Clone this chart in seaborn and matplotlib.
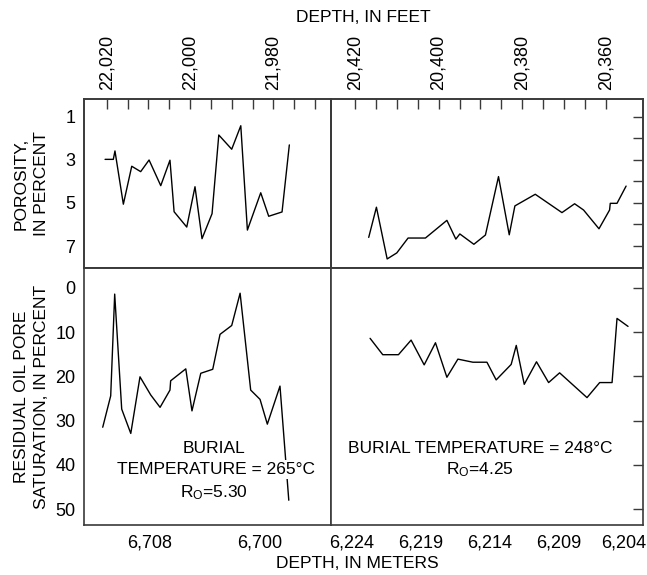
import matplotlib
matplotlib.use("Agg")
import matplotlib.pyplot as plt
import matplotlib.transforms as mtransforms
import seaborn as sns
import pandas as pd

sns.set_theme(style="white")
plt.rcParams['font.family'] = ['Liberation Sans', 'DejaVu Sans']
plt.rcParams['mathtext.fontset'] = 'custom'
plt.rcParams['mathtext.rm'] = 'Liberation Sans'
plt.rcParams['mathtext.it'] = 'Liberation Sans'
plt.rcParams['text.color'] = 'black'
plt.rcParams['axes.labelcolor'] = 'black'
plt.rcParams['xtick.color'] = 'black'
plt.rcParams['ytick.color'] = 'black'

# ---------------- data (depth in meters) ----------------
left_depth_por = [6711.27, 6710.67, 6710.55, 6709.94, 6709.33, 6708.68, 6708.07, 6707.22,
                  6706.55, 6706.25, 6705.33, 6704.73, 6704.22, 6703.49, 6703.00, 6702.06,
                  6701.40, 6700.92, 6699.95, 6699.37, 6698.40, 6697.87]
left_porosity = [2.98, 2.98, 2.59, 5.06, 3.30, 3.55, 3.01, 4.20, 3.02, 5.41, 6.12, 4.25,
                 6.66, 5.50, 1.85, 2.51, 1.42, 6.26, 4.53, 5.62, 5.42, 2.31]

left_depth_sat = [6711.44, 6710.86, 6710.57, 6710.06, 6709.40, 6708.73, 6707.95, 6707.27,
                  6706.55, 6706.50, 6705.40, 6704.95, 6704.31, 6703.44, 6702.91, 6702.06,
                  6701.45, 6700.68, 6700.00, 6699.47, 6698.55, 6697.91]
left_saturation = [31.5, 24.4, 1.4, 27.4, 32.9, 20.1, 24.2, 27.0, 23.1, 21.0, 18.3, 27.8,
                   19.3, 18.4, 10.5, 8.5, 1.2, 23.1, 25.2, 30.8, 22.2, 48.0]

right_depth_por = [6222.79, 6222.23, 6221.45, 6220.75, 6219.93, 6218.67, 6217.11, 6216.46,
                   6216.17, 6215.15, 6214.31, 6213.36, 6212.58, 6212.17, 6210.69, 6208.75,
                   6207.83, 6207.18, 6206.06, 6205.29, 6205.24, 6204.75, 6204.09]
right_porosity = [6.60, 5.20, 7.60, 7.32, 6.63, 6.63, 5.81, 6.68, 6.44, 6.92, 6.49, 3.78,
                  6.48, 5.14, 4.60, 5.45, 5.04, 5.33, 6.20, 5.33, 5.02, 5.02, 4.22]

right_depth_sat = [6222.69, 6221.77, 6220.63, 6219.71, 6218.76, 6217.94, 6217.11, 6216.31,
                   6215.22, 6214.20, 6213.53, 6212.44, 6212.07, 6211.49, 6210.60, 6209.72,
                   6208.92, 6206.93, 6206.01, 6205.11, 6204.75, 6203.95]
right_saturation = [11.4, 15.1, 15.1, 11.8, 17.4, 12.4, 20.2, 16.1, 16.8, 16.8, 20.8, 17.3,
                    13.0, 21.8, 16.7, 21.4, 19.2, 24.8, 21.4, 21.4, 6.9, 8.7]

# ---------------- ticks ----------------
porosity_ticks = [1, 2, 3, 4, 5, 6, 7]
porosity_labels = ["1", "", "3", "", "5", "", "7"]
sat_ticks = [0, 10, 20, 30, 40, 50]
sat_labels = ["0", "10", "20", "30", "40", "50"]
left_m_ticks = [6712, 6708, 6704, 6700, 6696]
left_m_labels = ["", "6,708", "", "6,700", ""]
right_m_ticks = [6224, 6219, 6214, 6209, 6204]
right_m_labels = ["6,224", "6,219", "6,214", "6,209", "6,204"]
left_ft_ticks = [22020, 22015, 22010, 22005, 22000, 21995, 21990, 21985, 21980, 21975, 21970]
left_ft_labels = ["22,020", "", "", "", "22,000", "", "", "", "21,980", "", ""]
right_ft_ticks = [20420, 20415, 20410, 20405, 20400, 20395, 20390, 20385, 20380,
                  20375, 20370, 20365, 20360]
right_ft_labels = ["20,420", "", "", "", "20,400", "", "", "", "20,380", "", "", "", "20,360"]

left_xlim_m = (6712.78, 6694.84)
right_xlim_m = (6225.53, 6202.84)
left_xlim_ft = (22025.4, 21966.2)
right_xlim_ft = (20425.7, 20351.1)
por_ylim = (8.02, 0.18)
sat_ylim = (53.6, -4.5)

# ---------------- figure ----------------
W, H = 647, 575
fig = plt.figure(figsize=(W / 100, H / 100), dpi=100)
x0, xm, x1 = 84.3 / W, 331 / W, 643.3 / W
y_top, y_mid, y_bot = 1 - 99 / H, 1 - 268 / H, 1 - 525 / H

ax_tl = fig.add_axes([x0, y_mid, xm - x0, y_top - y_mid])
ax_tr = fig.add_axes([xm, y_mid, x1 - xm, y_top - y_mid])
ax_bl = fig.add_axes([x0, y_bot, xm - x0, y_mid - y_bot])
ax_br = fig.add_axes([xm, y_bot, x1 - xm, y_mid - y_bot])

FS = 12.5
TFS = 13
SPINE = "#3a3a3a"
line_kw = dict(color="black", linewidth=1.0, sort=False, estimator=None)

sns.lineplot(data=pd.DataFrame({"d": left_depth_por, "v": left_porosity}), x="d", y="v", ax=ax_tl, **line_kw)
sns.lineplot(data=pd.DataFrame({"d": right_depth_por, "v": right_porosity}), x="d", y="v", ax=ax_tr, **line_kw)
sns.lineplot(data=pd.DataFrame({"d": left_depth_sat, "v": left_saturation}), x="d", y="v", ax=ax_bl, **line_kw)
sns.lineplot(data=pd.DataFrame({"d": right_depth_sat, "v": right_saturation}), x="d", y="v", ax=ax_br, **line_kw)

for ax in (ax_tl, ax_tr, ax_bl, ax_br):
    ax.set_xlabel("")
    ax.set_ylabel("")
    for s in ax.spines.values():
        s.set_color(SPINE)
        s.set_linewidth(1.2)
        s.set_visible(True)
    ax.tick_params(direction="in", length=7.5, width=1.0, color=SPINE,
                   labelsize=TFS, pad=6.5, labelcolor="black")

ax_tl.set_xlim(*left_xlim_m); ax_bl.set_xlim(*left_xlim_m)
ax_tr.set_xlim(*right_xlim_m); ax_br.set_xlim(*right_xlim_m)
ax_tl.set_ylim(*por_ylim); ax_tr.set_ylim(*por_ylim)
ax_bl.set_ylim(*sat_ylim); ax_br.set_ylim(*sat_ylim)

# y ticks
ax_tl.set_yticks(porosity_ticks, porosity_labels)
ax_bl.set_yticks(sat_ticks, sat_labels)
for ax, t in ((ax_tr, porosity_ticks), (ax_br, sat_ticks)):
    ax.yaxis.tick_right()
    ax.set_yticks(t, [""] * len(t))

# bottom x ticks
ax_bl.set_xticks(left_m_ticks, left_m_labels)
ax_br.set_xticks(right_m_ticks, right_m_labels)
ax_bl.tick_params(axis="x", pad=7)
ax_br.tick_params(axis="x", pad=7)
ax_tl.set_xticks([]); ax_tr.set_xticks([])
# keep the last meter label inside the picture
last = ax_br.get_xticklabels()[-1]
last.set_transform(last.get_transform() + mtransforms.ScaledTranslation(-4 / 100, 0, fig.dpi_scale_trans))

# top x ticks (feet)
for ax, lim, t, lab in ((ax_tl, left_xlim_ft, left_ft_ticks, left_ft_labels),
                        (ax_tr, right_xlim_ft, right_ft_ticks, right_ft_labels)):
    tw = ax.twiny()
    tw.set_xlim(*lim)
    tw.set_xticks(t, lab, rotation=90)
    tw.tick_params(direction="in", length=7.5, width=1.0, color=SPINE,
                   labelsize=TFS, pad=6.5, labelcolor="black")
    for s in tw.spines.values():
        s.set_color(SPINE)
        s.set_linewidth(1.2)

# axis titles
fig.text(363.5 / W, 1 - 17 / H, "DEPTH, IN FEET", ha="center", va="center", fontsize=FS)
fig.text(357 / W, 1 - 564 / H, "DEPTH, IN METERS", ha="center", va="center", fontsize=FS)
fig.text(31.5 / W, 1 - 183.5 / H, "POROSITY,\nIN PERCENT", ha="center", va="center",
         rotation=90, fontsize=FS, multialignment="center", linespacing=1.45)
fig.text(31.5 / W, 1 - 396.5 / H, "RESIDUAL OIL PORE\nSATURATION, IN PERCENT", ha="center",
         va="center", rotation=90, fontsize=FS, multialignment="center", linespacing=1.45)

# annotations
ax_bl.text(6703.35, 36.2, "BURIAL", ha="center", va="center", fontsize=FS, zorder=5)
ax_bl.text(6703.2, 41.0, "TEMPERATURE = 265°C", ha="center", va="center", fontsize=FS, zorder=5,
           bbox=dict(facecolor="white", edgecolor="none", pad=1.5))
ax_bl.text(6703.35, 46.2, "R$_\\mathrm{O}$=5.30", ha="center", va="center", fontsize=FS, zorder=5)
ax_br.text(6214.69, 38.85, "BURIAL TEMPERATURE = 248°C\nR$_\\mathrm{O}$=4.25", ha="center",
           va="center", fontsize=FS, linespacing=1.3, zorder=5)

fig.savefig("out.png", dpi=100)
